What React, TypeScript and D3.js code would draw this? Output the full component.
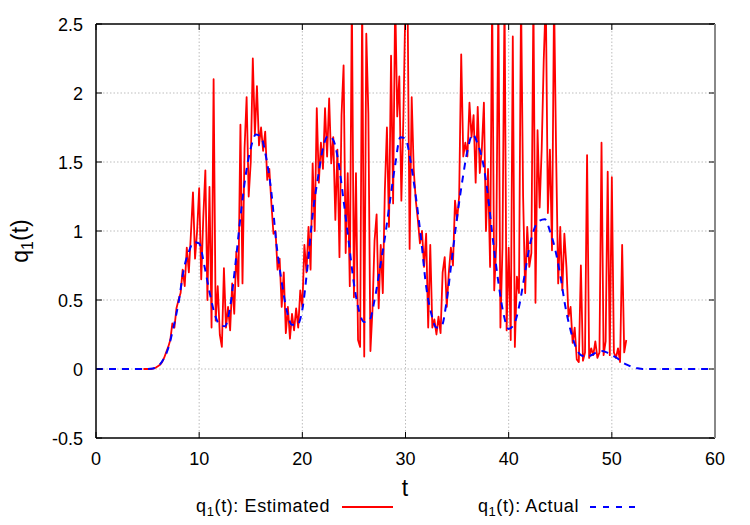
import React from "react";
import * as d3 from "d3";

const xTicks = [0, 10, 20, 30, 40, 50, 60];
const yTicks = [-0.5, 0, 0.5, 1, 1.5, 2, 2.5];
const yTickLabels = ["-0.5", "0", "0.5", "1", "1.5", "2", "2.5"];

// Actual q1(t), sampled every 0.5 from t = 0 to t = 60
const actualStart = 0;
const actualStep = 0.5;
const actualValues = [
  0, 0, 0, 0, 0, 0, 0, 0, 0, 0, 0,
  0.003, 0.02, 0.065, 0.15, 0.3, 0.48, 0.72, 0.85, 0.92, 0.91,
  0.75, 0.56, 0.4, 0.32, 0.31, 0.45, 0.75, 1.1, 1.4, 1.6,
  1.7, 1.68, 1.53, 1.28, 0.9, 0.63, 0.42, 0.32, 0.32, 0.43,
  0.74, 1.12, 1.38, 1.6, 1.69, 1.66, 1.5, 1.22, 0.92, 0.62,
  0.42, 0.34, 0.35, 0.5, 0.72, 0.95, 1.22, 1.48, 1.68, 1.67,
  1.5, 1.25, 0.95, 0.6, 0.4, 0.3, 0.31, 0.5, 0.8, 1.1,
  1.36, 1.58, 1.7, 1.63, 1.5, 1.25, 0.92, 0.63, 0.4, 0.29,
  0.32, 0.45, 0.66, 0.88, 1.02, 1.075, 1.085, 1.0, 0.87, 0.68,
  0.45, 0.28, 0.16, 0.1, 0.09, 0.1, 0.12, 0.13, 0.12, 0.1,
  0.08, 0.05, 0.03, 0.015, 0.005, 0, 0, 0, 0, 0,
  0, 0, 0, 0, 0, 0, 0, 0, 0, 0
];

// Estimated q1(t), sampled every 0.2 from t = 4.6
const estStart = 4.6;
const estStep = 0.2;
const estValues = [
  0, 0, 0, 0, 0, 0.005, 0.01, 0.02, 0.03, 0.05,
  0.08, 0.12, 0.16, 0.21, 0.33, 0.3, 0.44, 0.5, 0.55, 0.72,
  0.6, 0.88, 0.7, 0.98, 1.28, 0.8, 1.0, 1.31, 0.65, 1.1,
  1.44, 0.5, 1.32, 0.3, 2.1, 0.35, 0.6, 0.25, 0.16, 0.73,
  0.3, 0.45, 0.28, 0.62, 0.4, 0.85, 0.6, 1.77, 0.62, 1.6,
  1.97, 1.25, 1.5, 2.25, 1.7, 2.05, 1.62, 1.75, 1.58, 1.72,
  1.37, 1.45, 1.2, 0.98, 1.0, 0.72, 0.8, 0.45, 0.7, 0.26,
  0.45, 0.22, 0.4, 0.28, 0.44, 0.3, 0.57, 0.45, 0.9, 0.7,
  1.03, 0.72, 1.49, 1.0, 1.89, 1.35, 1.64, 1.45, 1.89, 1.54,
  1.96, 1.49, 1.68, 1.08, 1.59, 0.81, 1.84, 2.2, 0.84, 1.42,
  0.6, 2.7, 0.52, 1.42, 0.21, 0.16, 2.7, 0.09, 2.43, 1.85,
  0.13, 0.43, 0.93, 1.12, 0.44, 0.9, 0.55, 1.3, 1.75, 1.03,
  2.27, 1.2, 2.7, 1.83, 2.12, 1.22, 1.84, 2.7, 2.7, 0.87,
  1.97, 1.44, 1.22, 1.08, 0.91, 1.0, 0.74, 0.98, 0.3, 0.9,
  0.3, 0.36, 0.25, 0.38, 0.26, 0.7, 0.81, 0.45, 0.7, 0.88,
  0.75, 1.22, 1.08, 1.25, 2.28, 1.54, 1.64, 1.54, 1.93, 1.68,
  1.84, 1.35, 1.9, 1.42, 1.59, 1.93, 1.0, 1.45, 0.74, 2.7,
  0.57, 0.9, 2.7, 0.3, 0.88, 2.7, 0.28, 0.88, 0.21, 2.41,
  0.16, 0.67, 0.55, 2.7, 1.25, 0.55, 1.03, 0.74, 0.84, 2.7,
  0.48, 1.73, 1.17, 1.59, 2.24, 2.7, 1.13, 1.59, 0.86, 2.7,
  1.56, 0.62, 1.03, 0.57, 0.98, 0.74, 0.38, 0.45, 0.19, 0.3,
  0.07, 0.05, 0.75, 0.06, 0.12, 1.55, 0.08, 0.15, 0.1, 0.2,
  0.08, 0.12, 1.64, 0.1, 0.2, 1.43, 0.1, 1.39, 0.12, 0.08,
  0.15, 0.05, 0.9, 0.12, 0.21
];

const legendLabels = ["Estimated", "Actual"];

const FONT = "'Liberation Sans', Arial, Helvetica, sans-serif";

export default function App() {
  const W = 750;
  const H = 525;
  const left = 96, right = 715, top = 24, bottom = 438;
  const x = d3.scaleLinear().domain([0, 60]).range([left, right]);
  const y = d3.scaleLinear().domain([-0.5, 2.5]).range([bottom, top]);

  const actualData: [number, number][] = actualValues.map((v, i) => [actualStart + i * actualStep, v]);
  const estData: [number, number][] = estValues.map((v, i) => [estStart + i * estStep, v]);

  const lineSmooth = d3.line<[number, number]>()
    .x((d) => x(d[0]))
    .y((d) => y(d[1]))
    .curve(d3.curveMonotoneX);
  const lineRaw = d3.line<[number, number]>()
    .x((d) => x(d[0]))
    .y((d) => y(d[1]));

  const tickLen = 6;

  return (
    <svg width={W} height={H} style={{ position: "absolute", left: 0, top: 0, background: "#fff" }} fontFamily={FONT}>
      <defs>
        <clipPath id="plotClip">
          <rect x={left} y={top} width={right - left} height={bottom - top} />
        </clipPath>
      </defs>
      <rect x={0} y={0} width={W} height={H} fill="#fff" />

      {/* grid */}
      {xTicks.filter((t) => t > 0 && t < 60).map((t) => (
        <line key={"gx" + t} x1={x(t)} x2={x(t)} y1={top} y2={bottom}
          stroke="#bdbdbd" strokeWidth={1} strokeDasharray="1.5,2" />
      ))}
      {yTicks.filter((t) => t > -0.5 && t < 2.5).map((t) => (
        <line key={"gy" + t} x1={left} x2={right} y1={y(t)} y2={y(t)}
          stroke="#bdbdbd" strokeWidth={1} strokeDasharray="1.5,2" />
      ))}

      {/* data */}
      <g clipPath="url(#plotClip)">
        <path d={lineRaw(estData) || ""} fill="none" stroke="#ff0000" strokeWidth={1.8} strokeLinejoin="round" />
        <path d={lineSmooth(actualData) || ""} fill="none" stroke="#0000ff" strokeWidth={2} strokeDasharray="7,6" />
      </g>

      {/* ticks */}
      {xTicks.map((t) => (
        <g key={"tx" + t}>
          <line x1={x(t)} x2={x(t)} y1={bottom} y2={bottom - tickLen} stroke="#000" strokeWidth={1} />
          <line x1={x(t)} x2={x(t)} y1={top} y2={top + tickLen} stroke="#000" strokeWidth={1} />
          <text x={x(t)} y={465} fontSize={18} textAnchor="middle" fill="#000">{t}</text>
        </g>
      ))}
      {yTicks.map((t, i) => (
        <g key={"ty" + t}>
          <line x1={left} x2={left + tickLen} y1={y(t)} y2={y(t)} stroke="#000" strokeWidth={1} />
          <line x1={right} x2={right - tickLen} y1={y(t)} y2={y(t)} stroke="#000" strokeWidth={1} />
          <text x={83} y={y(t) + 6.5} fontSize={18} textAnchor="end" fill="#000">{yTickLabels[i]}</text>
        </g>
      ))}

      {/* border */}
      <line x1={left} x2={right} y1={top} y2={top} stroke="#000" strokeWidth={1.5} />
      <line x1={left} x2={right} y1={bottom} y2={bottom} stroke="#000" strokeWidth={1.5} />
      <line x1={left} x2={left} y1={top} y2={bottom} stroke="#000" strokeWidth={1.5} />
      <line x1={right} x2={right} y1={top} y2={bottom} stroke="#888" strokeWidth={2} />

      {/* axis titles */}
      <text x={405} y={496} fontSize={23} textAnchor="middle" fill="#000">t</text>
      <text transform="translate(28,241) rotate(-90)" fontSize={23} textAnchor="middle" fill="#000">
        q<tspan fontSize={16} dy={5}>1</tspan><tspan dy={-5}>(t)</tspan>
      </text>

      {/* legend */}
      <text x={330} y={512} fontSize={18} letterSpacing={0.6} textAnchor="end" fill="#000">
        q<tspan fontSize={13} dy={4}>1</tspan><tspan dy={-4}>(t): {legendLabels[0]}</tspan>
      </text>
      <line x1={342} x2={393} y1={507} y2={507} stroke="#ff0000" strokeWidth={2} />
      <text x={579} y={512} fontSize={18} letterSpacing={0.6} textAnchor="end" fill="#000">
        q<tspan fontSize={13} dy={4}>1</tspan><tspan dy={-4}>(t): {legendLabels[1]}</tspan>
      </text>
      <line x1={590} x2={640} y1={507} y2={507} stroke="#0000ff" strokeWidth={2} strokeDasharray="6,7" />
    </svg>
  );
}
